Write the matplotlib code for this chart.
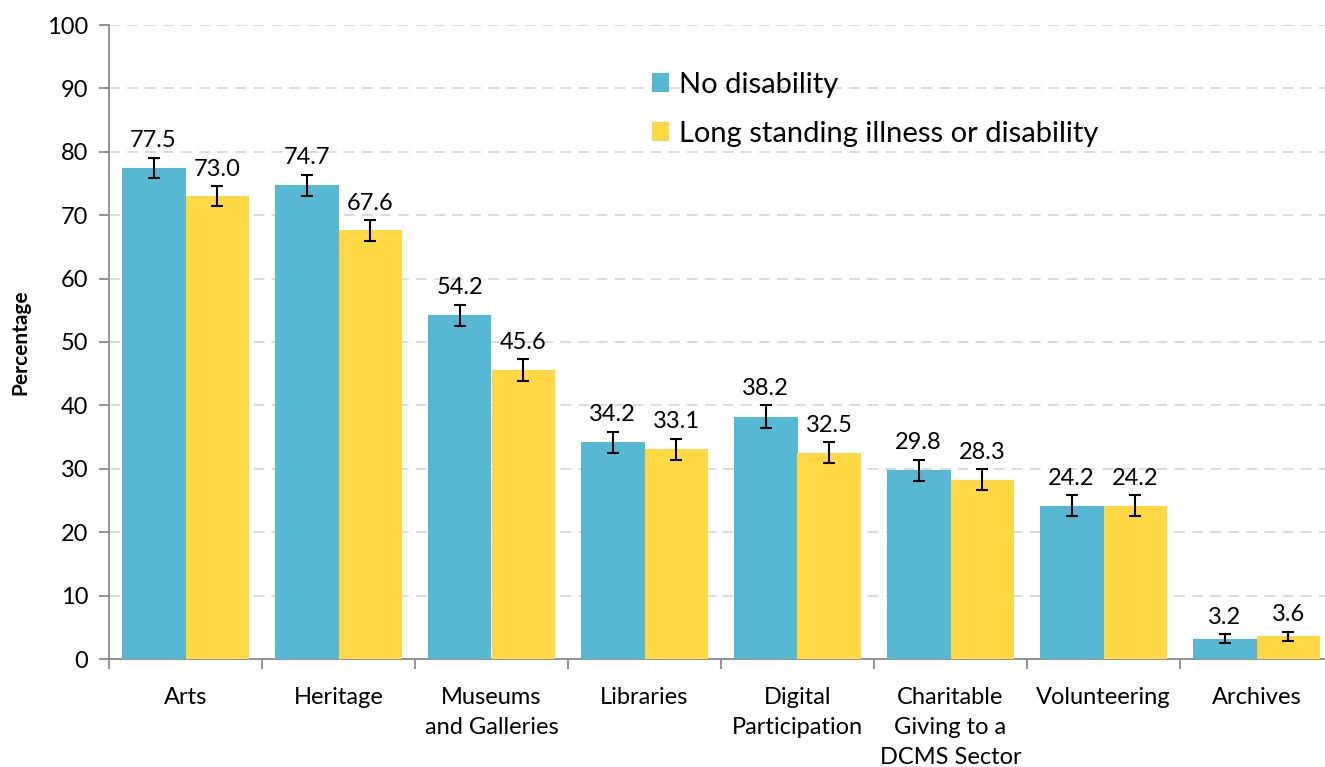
import numpy as np
import matplotlib.pyplot as plt

plt.rcParams['font.family'] = ['Lato', 'DejaVu Sans']

categories = ['Arts', 'Heritage', 'Museums\nand Galleries', 'Libraries',
              'Digital\nParticipation', 'Charitable\nGiving to a\nDCMS Sector',
              'Volunteering', 'Archives']
no_dis = [77.5, 74.7, 54.2, 34.2, 38.2, 29.8, 24.2, 3.2]
long_ill = [73.0, 67.6, 45.6, 33.1, 32.5, 28.3, 24.2, 3.6]
err_no = [1.6, 1.7, 1.7, 1.65, 1.8, 1.65, 1.6, 0.7]
err_long = [1.6, 1.65, 1.7, 1.65, 1.65, 1.65, 1.6, 0.7]

blue, yellow, grey = '#56B8D3', '#FFD843', '#8C8C8C'

fig = plt.figure(figsize=(13.25, 7.67), dpi=100)
ax = fig.add_axes([109/1325, 1-659/767, 1224/1325, 634/767])

x = np.arange(len(categories))
w = 0.418
ek = dict(ecolor='k', elinewidth=1.5, capsize=4.5, capthick=1.5)
ax.bar(x - w/2, no_dis, w, color=blue, yerr=err_no, error_kw=ek, zorder=3,
       label='No disability')
ax.bar(x + w/2, long_ill, w, color=yellow, yerr=err_long, error_kw=ek, zorder=3,
       label='Long standing illness or disability')

for xi, v, e in zip(x - w/2, no_dis, err_no):
    ax.text(xi, v + e + 1.0, f'{v:.1f}', ha='center', va='bottom', fontsize=17)
for xi, v, e in zip(x + w/2, long_ill, err_long):
    ax.text(xi, v + e + 1.0, f'{v:.1f}', ha='center', va='bottom', fontsize=17)

ax.set_xlim(-0.5, len(categories) - 0.5)
ax.set_ylim(0, 100)
ax.set_yticks(np.arange(0, 101, 10))
ax.yaxis.grid(True, color='#D9D9D9', linestyle=(0, (6, 4)), linewidth=1.3, zorder=0)
ax.set_axisbelow(True)

ax.set_xticks(x)
ax.set_xticklabels(categories, fontsize=17, linespacing=1.55)
ax.tick_params(axis='x', length=0, pad=20)
ax.set_xticks(np.arange(-0.5, len(categories), 1), minor=True)
ax.tick_params(axis='x', which='minor', length=7, color=grey, width=1.3)
ax.tick_params(axis='y', labelsize=17, length=7, color=grey, width=1.3, pad=8)

for s in ['top', 'right']:
    ax.spines[s].set_visible(False)
for s in ['left', 'bottom']:
    ax.spines[s].set_color(grey)
    ax.spines[s].set_linewidth(1.3)

ax.set_ylabel('Percentage', fontsize=15, fontweight='bold', labelpad=12)

ax.legend(loc='upper left', bbox_to_anchor=(0.422, 0.968), frameon=False,
          fontsize=21, handlelength=0.6, handleheight=0.6, handletextpad=0.35,
          labelspacing=0.8)

fig.savefig('out.png', dpi=100)
